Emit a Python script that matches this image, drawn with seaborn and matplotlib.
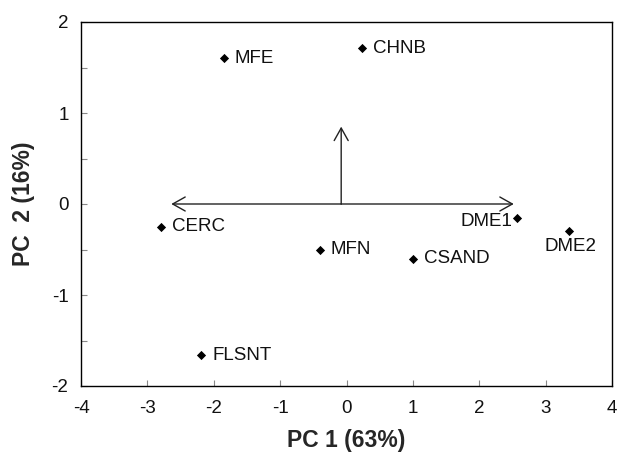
import matplotlib
matplotlib.use("Agg")
import matplotlib.pyplot as plt
import seaborn as sns
import pandas as pd

# ---- data ----
sites = ["MFE", "CHNB", "CERC", "MFN", "CSAND", "DME1", "DME2", "FLSNT"]
pc1 = [-1.85, 0.24, -2.79, -0.40, 1.00, 2.57, 3.35, -2.19]
pc2 = [1.60, 1.71, -0.25, -0.50, -0.60, -0.15, -0.30, -1.66]

# loading arrows (origin and tips)
arrow_origin = (-0.08, 0.0)
arrow_tip_x = [-2.64, 2.52, -0.08]
arrow_tip_y = [0.0, 0.0, 0.85]

x_ticks = [-4, -3, -2, -1, 0, 1, 2, 3, 4]
y_ticks = [-2, -1, 0, 1, 2]
y_minor = [-1.5, -0.5, 0.5, 1.5]

df = pd.DataFrame({"site": sites, "PC1": pc1, "PC2": pc2})

sns.set_theme(style="white")
plt.rcParams["font.family"] = ["Liberation Sans", "DejaVu Sans"]

fig = plt.figure(figsize=(6.19, 4.53), dpi=100)
ax = fig.add_axes([81 / 619, 1 - 386 / 453, (612 - 81) / 619, (386 - 22) / 453])

sns.scatterplot(data=df, x="PC1", y="PC2", marker="D", s=22, color="black",
                edgecolor="black", linewidth=0, ax=ax, legend=False)

# labels
offsets = {"DME1": (-5, -4, "right", "center"),
           "DME2": (2, -15, "center", "center")}
for name, x, y in zip(sites, pc1, pc2):
    dx, dy, ha, va = offsets.get(name, (11, 0, "left", "center"))
    ax.annotate(name, xy=(x, y), xytext=(dx, dy), textcoords="offset pixels",
                ha=ha, va=va, fontsize=13.5, color="#111111")

# arrows
for tx, ty in zip(arrow_tip_x, arrow_tip_y):
    ax.annotate("", xy=(tx, ty), xytext=arrow_origin,
                arrowprops=dict(arrowstyle="->,head_length=0.75,head_width=0.42",
                                lw=1.0, color="#222222", shrinkA=0, shrinkB=0,
                                mutation_scale=12))

ax.set_xlim(-4, 4)
ax.set_ylim(-2, 2)
ax.set_xticks(x_ticks)
ax.set_xticklabels([str(t) for t in x_ticks])
ax.set_yticks(y_ticks)
ax.set_yticklabels([str(t) for t in y_ticks])
ax.set_yticks(y_minor, minor=True)

ax.tick_params(axis="both", which="both", direction="in", length=4, width=0.8,
               color="#888888", labelsize=13.5, labelcolor="#111111",
               bottom=True, left=True, top=False, right=False)
ax.tick_params(axis="x", pad=10)
ax.tick_params(axis="y", pad=9)

for sp in ax.spines.values():
    sp.set_color("black")
    sp.set_linewidth(1.0)
    sp.set_visible(True)

ax.set_xlabel("PC 1 (63%)", fontsize=16.5, fontweight="bold", labelpad=9)
ax.set_ylabel("PC  2 (16%)", fontsize=16.5, fontweight="bold", labelpad=12)

fig.savefig("out.png", dpi=100)
